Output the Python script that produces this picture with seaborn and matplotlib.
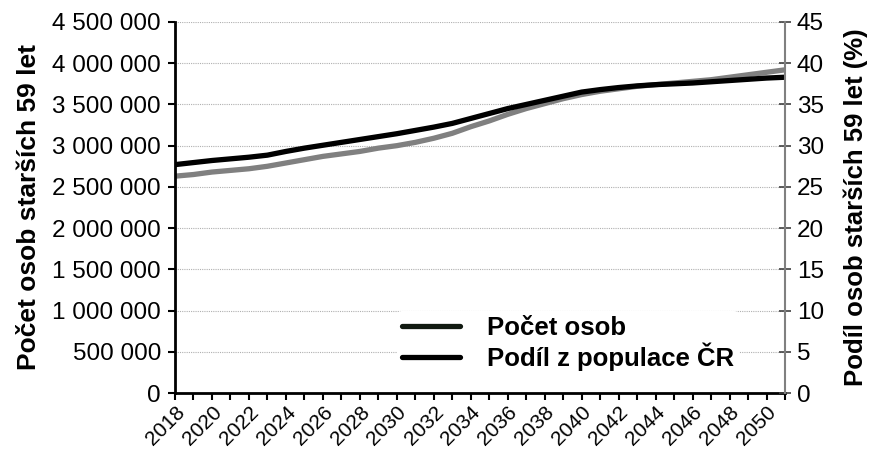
import numpy as np
import pandas as pd
import matplotlib.pyplot as plt
import matplotlib.ticker as mticker
from matplotlib.lines import Line2D
import seaborn as sns

# Data
years = list(range(2018, 2052))
pocet_mil = [2.63, 2.65, 2.68, 2.70, 2.72, 2.75, 2.79, 2.83, 2.87, 2.90,
             2.93, 2.97, 3.00, 3.04, 3.09, 3.15, 3.23, 3.30, 3.38, 3.45,
             3.51, 3.57, 3.62, 3.66, 3.69, 3.72, 3.74, 3.76, 3.78, 3.80,
             3.83, 3.86, 3.89, 3.92]
podil = [27.7, 27.95, 28.2, 28.4, 28.6, 28.85, 29.3, 29.7, 30.05, 30.4,
         30.75, 31.1, 31.45, 31.85, 32.25, 32.7, 33.3, 33.9, 34.5, 35.0,
         35.5, 36.0, 36.5, 36.8, 37.05, 37.25, 37.4, 37.5, 37.6, 37.75,
         37.9, 38.05, 38.2, 38.3]
legend_labels = ['Počet osob', 'Podíl z populace ČR']

df = pd.DataFrame({'rok': years,
                   'pocet': [v * 1e6 for v in pocet_mil],
                   'podil': podil})

sns.set_style("white")
plt.rcParams['font.family'] = ['Liberation Sans', 'DejaVu Sans']
plt.rcParams.update({'text.color': 'black', 'axes.labelcolor': 'black',
                     'xtick.color': 'black', 'ytick.color': 'black'})

fig = plt.figure(figsize=(8.76, 4.49), dpi=100)
ax = fig.add_axes([175 / 876, 56 / 449, 610 / 876, 371 / 449])
ax2 = ax.twinx()

sns.lineplot(data=df, x='rok', y='pocet', ax=ax, color='#808080', linewidth=3.8,
             legend=False)
sns.lineplot(data=df, x='rok', y='podil', ax=ax2, color='black', linewidth=3.8,
             legend=False)

# left axis
ax.set_xlim(2018, 2051)
ax.set_ylim(0, 4500000)
ax.yaxis.set_major_locator(mticker.MultipleLocator(500000))
ax.yaxis.set_major_formatter(mticker.FuncFormatter(
    lambda v, p: f"{int(v):,}".replace(",", " ")))
ax.grid(axis='y', color='#b0b0b0', linestyle=(0, (1, 1)), linewidth=0.8)
ax.set_axisbelow(True)

ax.xaxis.set_major_locator(mticker.FixedLocator(years[:-1:2]))
ax.xaxis.set_minor_locator(mticker.FixedLocator(years))
ax.set_xticklabels([str(y) for y in years[:-1:2]], rotation=45, ha='right',
                   rotation_mode='anchor')

ax.tick_params(axis='y', which='major', direction='out', length=5, width=1.5,
               labelsize=17.5, pad=5, left=True)
ax.tick_params(axis='x', which='both', direction='out', length=5, width=1.5,
               labelsize=15, pad=2, bottom=True)
ax.set_xlabel('')
ax.set_ylabel('Počet osob starších 59 let', fontsize=19, fontweight='bold',
              labelpad=8)

# right axis
ax2.set_ylim(0, 45)
ax2.yaxis.set_major_locator(mticker.MultipleLocator(5))
ax2.tick_params(axis='y', direction='inout', length=9, width=1.2,
                labelsize=17.5, pad=4, right=True, color='#404040',
                labelcolor='black')
ax2.set_ylabel('Podíl osob starších 59 let (%)', fontsize=18.5,
               fontweight='bold', labelpad=14)
ax2.set_xlabel('')

for a in (ax, ax2):
    a.spines['top'].set_visible(False)
ax.spines['left'].set_linewidth(2)
ax.spines['left'].set_color('black')
ax.spines['bottom'].set_linewidth(2)
ax.spines['bottom'].set_color('black')
ax.spines['right'].set_visible(False)
ax2.spines['left'].set_visible(False)
ax2.spines['bottom'].set_visible(False)
ax2.spines['right'].set_linewidth(1.5)
ax2.spines['right'].set_color('#808080')

# legend (both entries drawn in black like in the original)
handles = [Line2D([], [], color='#111a11', linewidth=3.8),
           Line2D([], [], color='black', linewidth=3.8)]
leg = ax2.legend(handles, legend_labels,
                 loc='lower left', bbox_to_anchor=(0.343, 0.011),
                 frameon=True, facecolor='white', edgecolor='none',
                 framealpha=1, fontsize=18.5, handlelength=2.25,
                 handletextpad=1.05, labelspacing=0.1, borderpad=0.2)
for t in leg.get_texts():
    t.set_fontweight('bold')

fig.savefig('out.png', dpi=100)
